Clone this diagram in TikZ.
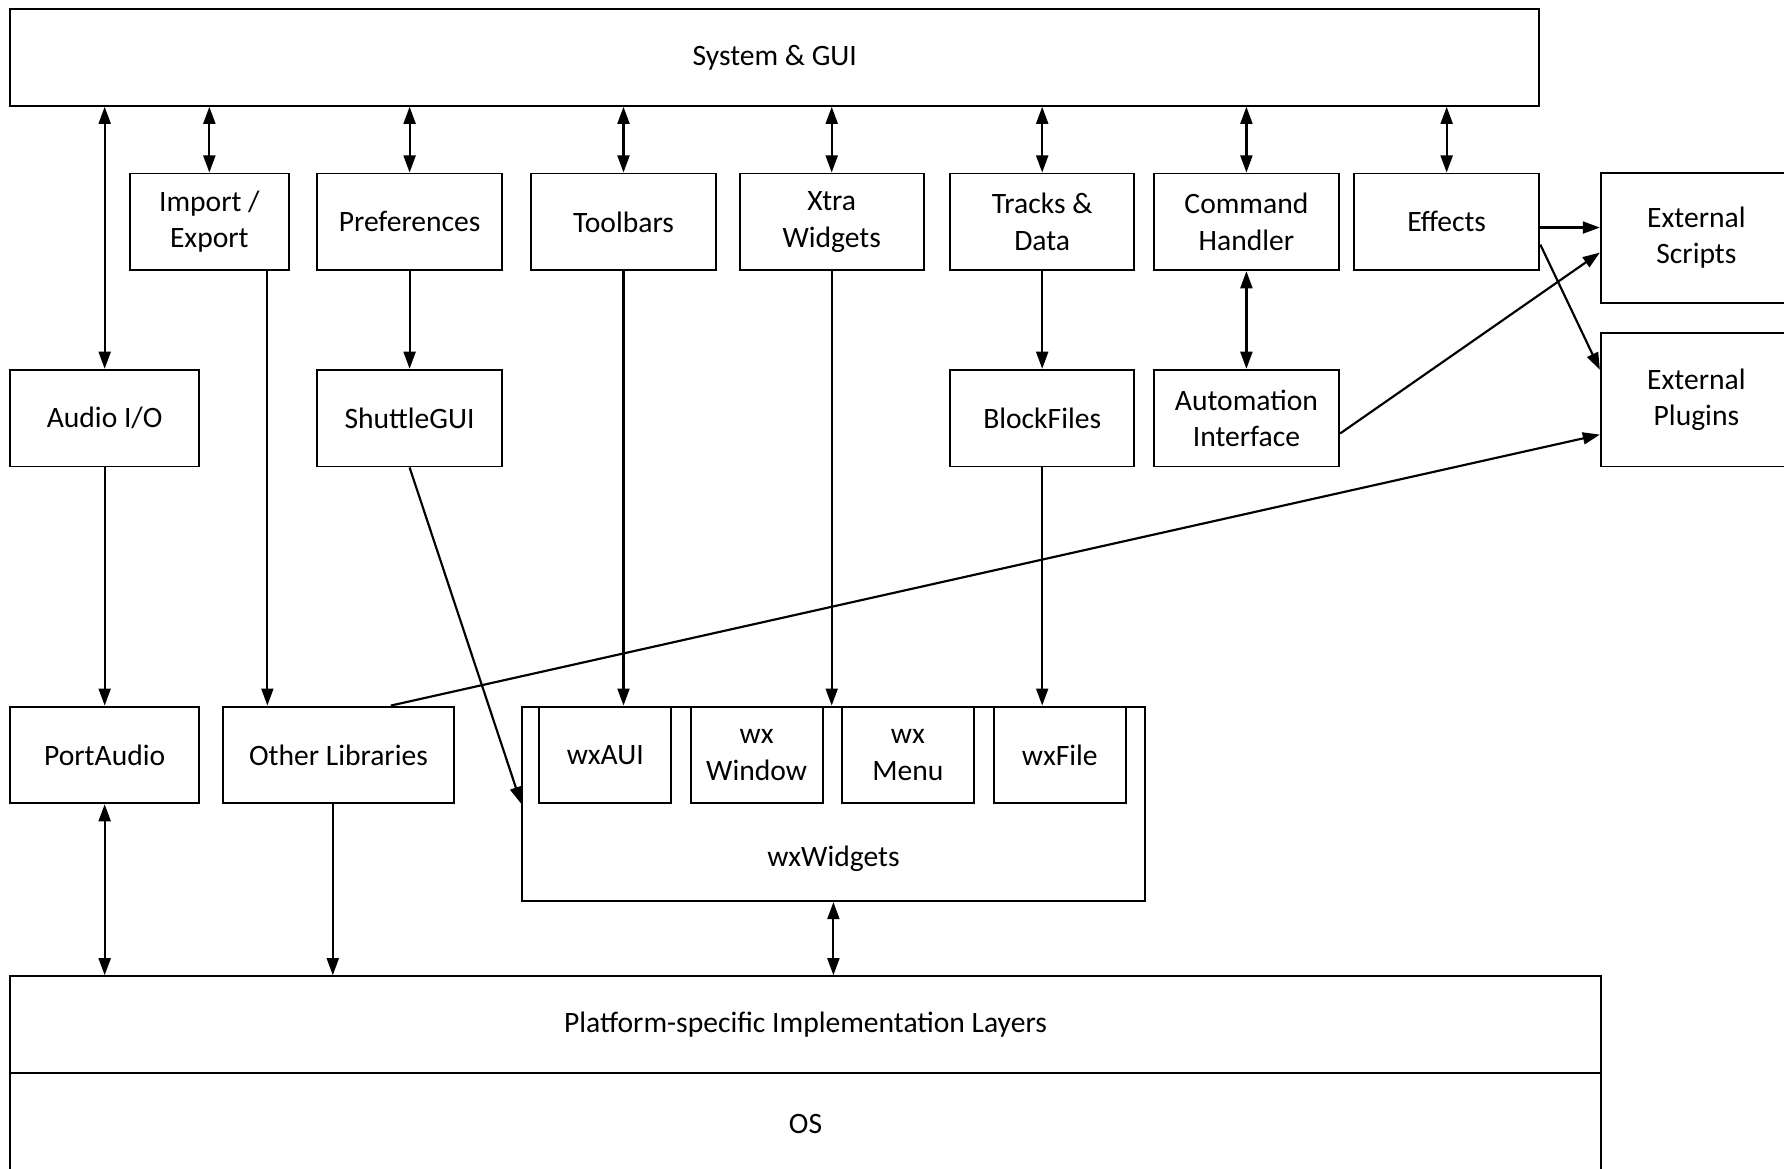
\documentclass[tikz,border=0pt]{standalone}
\usepackage{fontspec}
\setmainfont{Carlito}
\usetikzlibrary{arrows.meta}
\begin{document}
\begin{tikzpicture}[x=1pt,y=-1pt,
  box/.style={draw, line width=1.7pt, align=center, inner sep=0pt, minimum height=85pt, font=\fontsize{26}{32}\selectfont},
  lbl/.style={inner sep=0pt, font=\fontsize{26}{32}\selectfont},
  conn/.style={line width=1.9pt, -{Triangle[length=15pt,width=10.5pt]}},
  dconn/.style={line width=1.9pt, {Triangle[length=15pt,width=10.5pt]}-{Triangle[length=15pt,width=10.5pt]}}]
\useasboundingbox (0,0) rectangle (1568,1027);
% top layer
\node[box, minimum width=1344pt] (sys) at (681,50.5) {System \& GUI};
% row 1
\node[box, minimum width=140pt] (imp) at (184,195) {Import /\\Export};
\node[box, minimum width=163pt] (pref) at (360,195) {Preferences};
\node[box, minimum width=162pt] (tool) at (548,195) {Toolbars};
\node[box, minimum width=162pt] (xtra) at (731,195) {Xtra\\Widgets};
\node[box, minimum width=162pt] (tracks) at (916,195) {Tracks \&\\Data};
\node[box, minimum width=163pt] (cmd) at (1095.5,195) {Command\\Handler};
\node[box, minimum width=163pt] (eff) at (1271.5,195) {Effects};
\node[box, minimum width=168pt, minimum height=114pt] (extS) at (1491,209) {External\\Scripts};
\node[box, minimum width=168pt, minimum height=117pt] (extP) at (1491,351.5) {External\\Plugins};
% row 2
\node[box, minimum width=166pt] (audio) at (92,367.5) {Audio I/O};
\node[box, minimum width=163pt] (shuttle) at (360,367.5) {ShuttleGUI};
\node[box, minimum width=162pt] (block) at (916,367.5) {BlockFiles};
\node[box, minimum width=163pt] (auto) at (1095.5,367.5) {Automation\\Interface};
% row 3
\node[box, minimum width=166pt] (port) at (92,663.5) {PortAudio};
\node[box, minimum width=203pt] (other) at (297.5,663.5) {Other Libraries};
\node[box, minimum width=547pt, minimum height=171pt] (wx) at (732.5,706.5) {};
\node[lbl] (wxlbl) at (732.5,755) {wxWidgets};
\node[box, minimum width=116pt] (wxaui) at (532,663.5) {wxAUI};
\node[box, minimum width=116pt] (wxwin) at (665,663.5) {wx\\Window};
\node[box, minimum width=116pt] (wxmenu) at (798,663.5) {wx\\Menu};
\node[box, minimum width=116pt] (wxfile) at (931.5,663.5) {wxFile};
% bottom layers
\node[box, minimum width=1398pt] (plat) at (708,900.5) {Platform-specific Implementation Layers};
\node[box, minimum width=1398pt, minimum height=90pt] (os) at (708,988) {OS};
% connectors from System & GUI
\draw[dconn] (audio.north) -- (audio.north |- sys.south);
\draw[dconn] (imp.north) -- (imp.north |- sys.south);
\draw[dconn] (pref.north) -- (pref.north |- sys.south);
\draw[dconn] (tool.north) -- (tool.north |- sys.south);
\draw[dconn] (xtra.north) -- (xtra.north |- sys.south);
\draw[dconn] (tracks.north) -- (tracks.north |- sys.south);
\draw[dconn] (cmd.north) -- (cmd.north |- sys.south);
\draw[dconn] (eff.north) -- (eff.north |- sys.south);
% vertical downward links
\draw[conn] ([xshift=51pt]imp.south) -- ([xshift=51pt]imp.south |- other.north);
\draw[conn] (pref.south) -- (shuttle.north);
\draw[conn] (tool.south) -- (tool.south |- wx.north);
\draw[conn] (xtra.south) -- (xtra.south |- wx.north);
\draw[conn] (tracks.south) -- (block.north);
\draw[conn] (block.south) -- (block.south |- wx.north);
\draw[dconn] (cmd.south) -- (auto.north);
\draw[conn] (audio.south) -- (port.north);
% diagonal links
\draw[conn] (shuttle.south) -- (wx.west);
\draw[conn] ([xshift=46pt]other.north) -- ([yshift=-30.5pt]extP.west);
\draw[conn] ([yshift=-13.5pt]auto.east) -- ([yshift=-13pt]extS.west);
\draw[conn] ([yshift=-5pt]eff.east) -- ([yshift=-5pt]eff.east -| extS.west);
\draw[conn] ([yshift=-20pt]eff.east) -- ([yshift=26.5pt]extP.west);
% to the platform layer
\draw[dconn] (port.south) -- (port.south |- plat.north);
\draw[conn] ([xshift=-5pt]other.south) -- ([xshift=-5pt]other.south |- plat.north);
\draw[dconn] (wx.south) -- (wx.south |- plat.north);
\end{tikzpicture}
\end{document}
